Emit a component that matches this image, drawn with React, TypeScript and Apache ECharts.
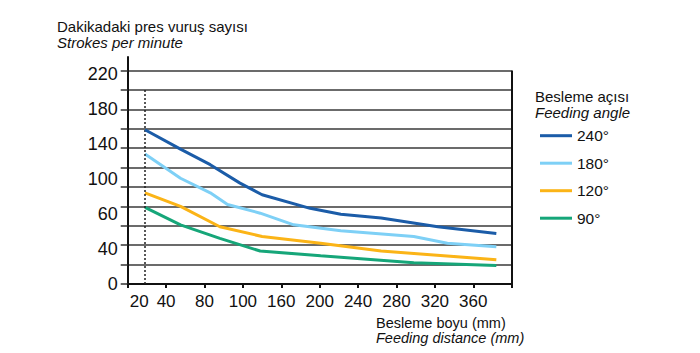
import React, { useEffect, useRef } from "react";
import * as echarts from "echarts";

const FONT = "'Liberation Sans', Arial, Helvetica, sans-serif";

const xTickValues = [0, 40, 80, 120, 160, 200, 240, 280, 320, 360, 400];
const xLabelValues = [12, 40, 80, 120, 160, 200, 240, 280, 320, 360];
const xLabelTexts = ["20", "40", "80", "100", "160", "200", "240", "280", "320", "360"];

const yTickValues = [0, 20, 40, 60, 80, 100, 120, 140, 160, 180, 200, 220];
const yLabelValues = [0, 36, 72, 108, 144, 180, 216];
const yLabelTexts = ["0", "40", "60", "100", "140", "180", "220"];

const seriesNames = ["240°", "180°", "120°", "90°"];
const seriesColors = ["#1b5ca8", "#7ed0f6", "#fbb417", "#16a679"];

const angle240 = [[18, 159], [55, 139], [86, 123], [117, 104], [140, 92], [190, 78], [222, 72], [264, 68], [323, 59], [384, 52]];
const angle180 = [[18, 134], [55, 109], [86, 94], [104, 82], [138, 73], [173, 61], [222, 55], [298, 49], [333, 42], [384, 38.5]];
const angle120 = [[18, 94], [55, 80], [96, 59], [140, 49], [201, 42], [264, 34], [305, 31], [384, 25]];
const angle90 = [[18, 79], [55, 61], [96, 47], [138, 34], [201, 29], [298, 22], [384, 19]];

const seriesData = [angle240, angle180, angle120, angle90];

const startX = 18;
const dottedTop = 200;
const rightEdge = 400;
const rightTop = 220;

function twoLine(x: number, y: number, a: string, b: string, size: number, lh: number) {
  return {
    type: "text",
    x,
    y,
    style: {
      text: `{a|${a}}\n{b|${b}}`,
      fill: "#111",
      rich: {
        a: { fontFamily: FONT, fontSize: size, lineHeight: lh, fill: "#111", color: "#111" },
        b: { fontFamily: FONT, fontSize: size, fontStyle: "italic", lineHeight: lh, fill: "#111", color: "#111" },
      },
    },
  };
}

export default function App() {
  const ref = useRef<HTMLDivElement>(null);

  useEffect(() => {
    if (!ref.current) return;
    const chart = echarts.init(ref.current, null, { renderer: "svg" });
    const option: any = {
      animation: false,
      textStyle: { fontFamily: FONT },
      grid: { left: 127.7, right: 188.3, top: 57, bottom: 69, containLabel: false },
      xAxis: {
        type: "value",
        min: 0,
        max: 400,
        axisLine: { show: true, lineStyle: { color: "#111", width: 2 } },
        axisTick: { show: true, customValues: xTickValues, length: 4, lineStyle: { color: "#111", width: 2 } },
        axisLabel: {
          customValues: xLabelValues,
          formatter: (v: number) => {
            const i = xLabelValues.indexOf(v);
            return i >= 0 ? xLabelTexts[i] : "";
          },
          color: "#111",
          fontSize: 17,
          fontFamily: FONT,
          margin: 9,
        },
        splitLine: { show: false },
      },
      yAxis: {
        type: "value",
        min: 0,
        max: 234,
        axisLine: { show: true, lineStyle: { color: "#111", width: 2 } },
        axisTick: { show: true, customValues: yTickValues, length: 7, lineStyle: { color: "#333", width: 1.5 } },
        axisLabel: {
          customValues: yLabelValues,
          formatter: (v: number) => {
            const i = yLabelValues.indexOf(v);
            return i >= 0 ? yLabelTexts[i] : "";
          },
          color: "#111",
          fontSize: 18,
          fontFamily: FONT,
          margin: 10,
        },
        splitLine: { show: true, lineStyle: { color: "#3a3a3a", width: 1.5 } },
      },
      legend: {
        orient: "vertical",
        left: 540,
        top: 127.7,
        padding: 0,
        icon: "rect",
        itemWidth: 32,
        itemHeight: 3,
        itemGap: 11.5,
        textStyle: { color: "#111", fontSize: 15.5, fontFamily: FONT, lineHeight: 16 },
        data: seriesNames,
      },
      graphic: [
        twoLine(57, 19, "Dakikadaki pres vuruş sayısı", "Strokes per minute", 15, 15.8),
        twoLine(376, 315, "Besleme boyu (mm)", "Feeding distance (mm)", 14.5, 15),
        twoLine(535, 89, "Besleme açısı", "Feeding angle", 15, 15.8),
      ],
      series: seriesData.map((d, i) => ({
        name: seriesNames[i],
        type: "line",
        data: d,
        symbol: "none",
        showSymbol: false,
        color: seriesColors[i],
        lineStyle: { color: seriesColors[i], width: 3 },
        z: 5 - i,
        markLine:
          i === 0
            ? {
                silent: true,
                symbol: ["none", "none"],
                label: { show: false },
                emphasis: { disabled: true },
                data: [
                  [
                    { coord: [startX, 0], lineStyle: { type: [2, 2], color: "#222", width: 1.5 } },
                    { coord: [startX, dottedTop], lineStyle: { type: [2, 2], color: "#222", width: 1.5 } },
                  ],
                  [
                    { coord: [rightEdge, 0], lineStyle: { type: "solid", color: "#111", width: 2 } },
                    { coord: [rightEdge, rightTop], lineStyle: { type: "solid", color: "#111", width: 2 } },
                  ],
                ],
              }
            : undefined,
      })),
    };
    chart.setOption(option);
    return () => chart.dispose();
  }, []);

  return (
    <div
      ref={ref}
      style={{ position: "fixed", left: 0, top: 0, width: 700, height: 353, background: "#fff" }}
    />
  );
}
